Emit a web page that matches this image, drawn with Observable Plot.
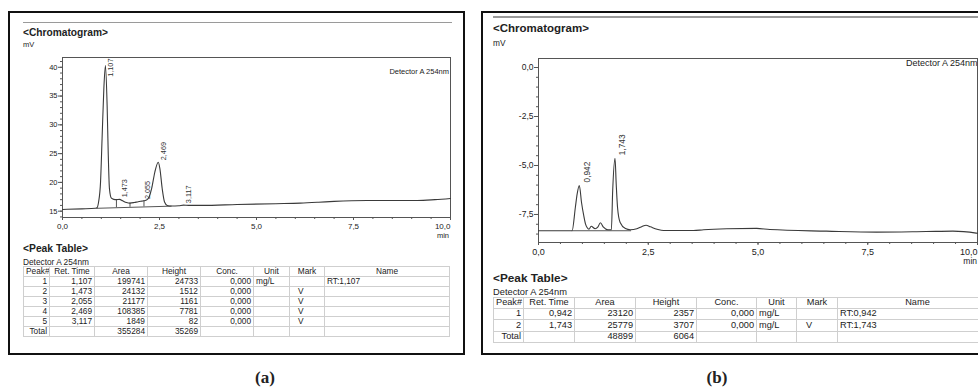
<!DOCTYPE html>
<html><head><meta charset="utf-8">
<script src="https://cdn.jsdelivr.net/npm/d3@7"></script>
<script src="https://cdn.jsdelivr.net/npm/@observablehq/plot@0.6"></script>
<style>
body{margin:0;background:#fff;}
#root{position:relative;width:978px;height:389px;overflow:hidden;background:#fff;font-family:"Liberation Sans",Arial,sans-serif;color:#222;}
.abs{position:absolute;white-space:nowrap;line-height:1;}
.box{position:absolute;box-sizing:border-box;border:2px solid #111;}
.rule{position:absolute;height:1.5px;background:#9a9a9a;}
table.pk{position:absolute;border-collapse:collapse;table-layout:fixed;color:#222;}
table.pk td{border:1px solid #cfcfcf;padding:0 2px;white-space:nowrap;overflow:hidden;line-height:1;}
.r{text-align:right}.c{text-align:center}.l{text-align:left}
.cap{position:absolute;font-family:"Liberation Serif","Times New Roman",serif;font-weight:bold;font-size:17px;line-height:1;transform:translateX(-50%);}
#plotA svg,#plotB svg{max-width:none !important;}
</style></head>
<body><div id="root">
<div class="box" style="left:8px;top:11px;width:457px;height:344px"></div>
<div class="box" style="left:481px;top:11px;width:600px;height:344px"></div>
<div class="rule" style="left:23px;top:21.5px;width:429px"></div>
<div class="rule" style="left:493px;top:16px;width:500px"></div>
<div class="abs" style="left:23px;top:28px;font-size:10.2px;font-weight:bold">&lt;Chromatogram&gt;</div>
<div class="abs" style="left:23px;top:40.5px;font-size:7.5px">mV</div>
<div class="abs" style="right:529px;top:67.5px;font-size:7.5px">Detector A 254nm</div>
<div class="abs" style="right:529px;top:231.5px;font-size:7.5px">min</div>
<div class="abs" style="left:23px;top:244px;font-size:10.3px;font-weight:bold">&lt;Peak Table&gt;</div>
<div class="abs" style="left:23px;top:258px;font-size:8.3px">Detector A 254nm</div>
<div class="abs" style="left:493px;top:23px;font-size:11.5px;font-weight:bold">&lt;Chromatogram&gt;</div>
<div class="abs" style="left:493px;top:39px;font-size:8.3px">mV</div>
<div class="abs" style="left:906px;top:58.5px;font-size:9px">Detector A 254nm</div>
<div class="abs" style="right:1px;top:257px;font-size:8.5px">min</div>
<div class="abs" style="left:493px;top:272.5px;font-size:11.8px;font-weight:bold">&lt;Peak Table&gt;</div>
<div class="abs" style="left:493px;top:288px;font-size:9.3px">Detector A 254nm</div>
<div class="cap" style="left:265px;top:369px">(a)</div>
<div class="cap" style="left:717px;top:369px">(b)</div>
<div id="plotA" style="position:absolute;left:22px;top:47px;width:448px;height:195px"></div>
<div id="plotB" style="position:absolute;left:498px;top:48px;width:499px;height:219px"></div>
</div>
<script>
// ---------- Panel (a) chromatogram ----------
const timeA   = [0, 0.5, 0.85, 0.89, 0.93, 0.98, 1.02, 1.065, 1.107, 1.15, 1.18, 1.21, 1.26, 1.32, 1.39, 1.47, 1.55, 1.65, 1.74, 1.85, 1.95, 2.05, 2.1, 2.18, 2.24, 2.3, 2.38, 2.469, 2.51, 2.57, 2.63, 2.7, 2.8, 3.0, 3.117, 3.25, 3.6, 4.5, 5.5, 6.13, 6.6, 7.0, 7.85, 9.14, 9.6, 10];
const signalA = [15.3, 15.4, 15.5, 15.6, 16.6, 20.0, 27.6, 36.2, 40.3, 33.4, 24.7, 18.9, 17.25, 17.05, 17.0, 17.05, 16.8, 16.5, 16.4, 16.5, 16.65, 16.75, 16.8, 17.0, 17.6, 19.0, 21.8, 23.5, 22.4, 18.9, 16.6, 16.0, 15.9, 15.95, 16.05, 16.0, 16.0, 16.15, 16.3, 16.4, 16.55, 16.7, 16.85, 16.85, 17.0, 17.2];
const baselineTimeA = [0.89, 2.8];
const baselineValA  = [15.5, 15.87];
const dropTimeA = [1.39, 1.74, 2.10];
const dropBaseA = [15.6, 15.67, 15.74];
const dropTopA  = [17.0, 16.4, 16.8];
const peakTimeA  = [1.107, 1.473, 2.055, 2.469, 3.117];
const peakApexA  = [40.3, 17.05, 16.75, 23.5, 16.05];
const peakLabelA = ["1,107", "1,473", "2,055", "2,469", "3,117"];
const yTicksA = [15, 20, 25, 30, 35, 40];

// ---------- Panel (b) chromatogram ----------
const timeB   = [0, 0.5, 0.765, 0.84, 0.88, 0.93, 0.98, 1.03, 1.07, 1.11, 1.15, 1.2, 1.29, 1.35, 1.41, 1.48, 1.58, 1.66, 1.69, 1.743, 1.77, 1.80, 1.86, 1.98, 2.09, 2.24, 2.36, 2.45, 2.55, 2.70, 2.85, 3.53, 3.76, 4.29, 4.97, 5.27, 6.56, 7.7, 8.83, 9.44, 9.97, 10];
const signalB = [-8.33, -8.33, -8.33, -7.13, -6.46, -6.02, -6.89, -7.55, -7.98, -8.18, -8.25, -8.1, -8.23, -8.15, -7.92, -8.15, -8.28, -8.28, -6.28, -4.63, -5.94, -7.13, -7.91, -8.22, -8.28, -8.23, -8.11, -8.05, -8.13, -8.25, -8.32, -8.32, -8.28, -8.23, -8.21, -8.27, -8.35, -8.4, -8.37, -8.35, -8.45, -8.46];
const baselineTimeB = [0.765, 2.1];
const baselineValB  = [-8.33, -8.33];
const peakTimeB  = [0.942, 1.743];
const peakApexB  = [-6.02, -4.63];
const peakLabelB = ["0,942", "1,743"];
const yTicksB = [0, -2.5, -5, -7.5];

const xTicks = [0, 2.5, 5, 7.5];
const xLast = [10];

// ---------- Peak tables ----------
const headers = ["Peak#", "Ret. Time", "Area", "Height", "Conc.", "Unit", "Mark", "Name"];
const peakNoA = ["1", "2", "3", "4", "5"];
const retTimeA = ["1,107", "1,473", "2,055", "2,469", "3,117"];
const areaA = [199741, 24132, 21177, 108385, 1849];
const heightA = [24733, 1512, 1161, 7781, 82];
const concA = ["0,000", "0,000", "0,000", "0,000", "0,000"];
const unitA = ["mg/L", "", "", "", ""];
const markA = ["", "V", "V", "V", "V"];
const nameA = ["RT:1,107", "", "", "", ""];
const totalAreaA = 355284, totalHeightA = 35269;

const peakNoB = ["1", "2"];
const retTimeB = ["0,942", "1,743"];
const areaB = [23120, 25779];
const heightB = [2357, 3707];
const concB = ["0,000", "0,000"];
const unitB = ["mg/L", "mg/L"];
const markB = ["", "V"];
const nameB = ["RT:0,942", "RT:1,743"];
const totalAreaB = 48899, totalHeightB = 6064;

const fmt1 = d => d.toFixed(1).replace(".", ",");

function chrom(o) {
  const data = o.time.map((t, i) => ({t, v: o.signal[i]}));
  const base = o.baseT.map((t, i) => ({t, v: o.baseV[i]}));
  const drops = o.dropT.map((t, i) => ({t, y1: o.dropB[i], y2: o.dropTop[i]}));
  const peaks = o.peakT.map((t, i) => ({t, v: Math.min(o.peakV[i], o.labelMax), label: o.peakL[i]}));
  const [y0, y1] = o.yDomain;
  const yMinor = d3.range(Math.ceil(y0 / o.yMinorStep) * o.yMinorStep, y1, o.yMinorStep);
  const xMinor = d3.range(0, 10.01, 0.5);
  return Plot.plot({
    width: o.width, height: o.height,
    marginLeft: 40, marginRight: 20, marginTop: 10, marginBottom: 25,
    x: {domain: [0, 10]},
    y: {domain: o.yDomain},
    style: {fontFamily: "Liberation Sans, Arial, sans-serif", color: "#222", background: "transparent", overflow: "visible", maxWidth: "none"},
    marks: [
      Plot.frame({stroke: "#555", strokeWidth: 1}),
      Plot.axisY(yMinor, {tickSize: 2, tickFormat: () => "", label: null, stroke: "#555"}),
      Plot.axisY(o.yTicks, {tickSize: 4, tickPadding: 1, tickFormat: o.yFmt, label: null, fontSize: o.tickFont, stroke: "#555"}),
      Plot.axisX(xMinor, {tickSize: 2, tickFormat: () => "", label: null, stroke: "#555"}),
      Plot.axisX(xTicks, {tickSize: 3, tickPadding: 3, tickFormat: fmt1, label: null, fontSize: o.xFont, stroke: "#555"}),
      Plot.axisX(xLast, {tickSize: 3, tickPadding: 3, tickFormat: fmt1, label: null, fontSize: o.xFont, textAnchor: "end", stroke: "#555"}),
      Plot.line(base, {x: "t", y: "v", stroke: "#555", strokeWidth: 1}),
      Plot.ruleX(drops, {x: "t", y1: "y1", y2: "y2", stroke: "#555", strokeWidth: 1}),
      Plot.line(data, {x: "t", y: "v", stroke: "#3a3a3a", strokeWidth: 1.1, curve: "monotone-x"}),
      Plot.text(peaks, {x: "t", y: "v", text: "label", rotate: -90, textAnchor: "start", dx: o.ldx, dy: o.ldy, fontSize: o.lFont, fill: "#333"})
    ]
  });
}

document.getElementById("plotA").append(chrom({
  width: 448, height: 195,
  time: timeA, signal: signalA, baseT: baselineTimeA, baseV: baselineValA,
  dropT: dropTimeA, dropB: dropBaseA, dropTop: dropTopA,
  peakT: peakTimeA, peakV: peakApexA, peakL: peakLabelA, labelMax: 38.0,
  yDomain: [13.9, 41.7], yTicks: yTicksA, yMinorStep: 1, yFmt: d => String(d),
  tickFont: 7.5, xFont: 8, lFont: 7.3, ldx: 5, ldy: -2
}));

document.getElementById("plotB").append(chrom({
  width: 499, height: 219,
  time: timeB, signal: signalB, baseT: baselineTimeB, baseV: baselineValB,
  dropT: [], dropB: [], dropTop: [],
  peakT: peakTimeB, peakV: peakApexB, peakL: peakLabelB, labelMax: 0,
  yDomain: [-8.93, 0.46], yTicks: yTicksB, yMinorStep: 0.5, yFmt: fmt1,
  tickFont: 8.5, xFont: 9, lFont: 8.3, ldx: 7, ldy: -3
}));

function buildTable(o) {
  const t = document.createElement("table");
  t.className = "pk";
  t.style.left = o.left + "px"; t.style.top = o.top + "px";
  t.style.fontSize = o.font + "px";
  t.style.width = d3.sum(o.widths) + "px";
  const cg = document.createElement("colgroup");
  o.widths.forEach(w => { const c = document.createElement("col"); c.style.width = w + "px"; cg.append(c); });
  t.append(cg);
  const addRow = (cells, cls) => {
    const tr = document.createElement("tr");
    tr.style.height = o.rowH + "px";
    cells.forEach((v, i) => {
      const td = document.createElement("td");
      td.textContent = v; td.className = cls[i];
      td.style.height = (o.rowH - 1) + "px";
      if (cls[i] === "l" && (i === 6)) td.style.paddingLeft = o.markPad + "px";
      tr.append(td);
    });
    t.append(tr);
  };
  addRow(headers, ["l", "c", "c", "c", "c", "c", "c", "c"]);
  const bodyCls = ["r", "r", "r", "r", "r", "l", "l", "l"];
  o.no.forEach((n, i) => addRow([n, o.rt[i], o.area[i], o.height[i], o.conc[i], o.unit[i], o.mark[i], o.name[i]], bodyCls));
  addRow(["Total", "", o.totalArea, o.totalHeight, "", "", "", ""], bodyCls);
  document.getElementById("root").append(t);
}

buildTable({left: 23, top: 265.5, font: 8.3, rowH: 10, markPad: 8,
  widths: [26, 45, 53, 53, 53, 36, 35, 125],
  no: peakNoA, rt: retTimeA, area: areaA, height: heightA, conc: concA, unit: unitA, mark: markA, name: nameA,
  totalArea: totalAreaA, totalHeight: totalHeightA});

buildTable({left: 493, top: 296.5, font: 9.2, rowH: 11.4, markPad: 9,
  widths: [30, 51, 61, 61, 60, 40, 41, 160],
  no: peakNoB, rt: retTimeB, area: areaB, height: heightB, conc: concB, unit: unitB, mark: markB, name: nameB,
  totalArea: totalAreaB, totalHeight: totalHeightB});
</script>
</body></html>
